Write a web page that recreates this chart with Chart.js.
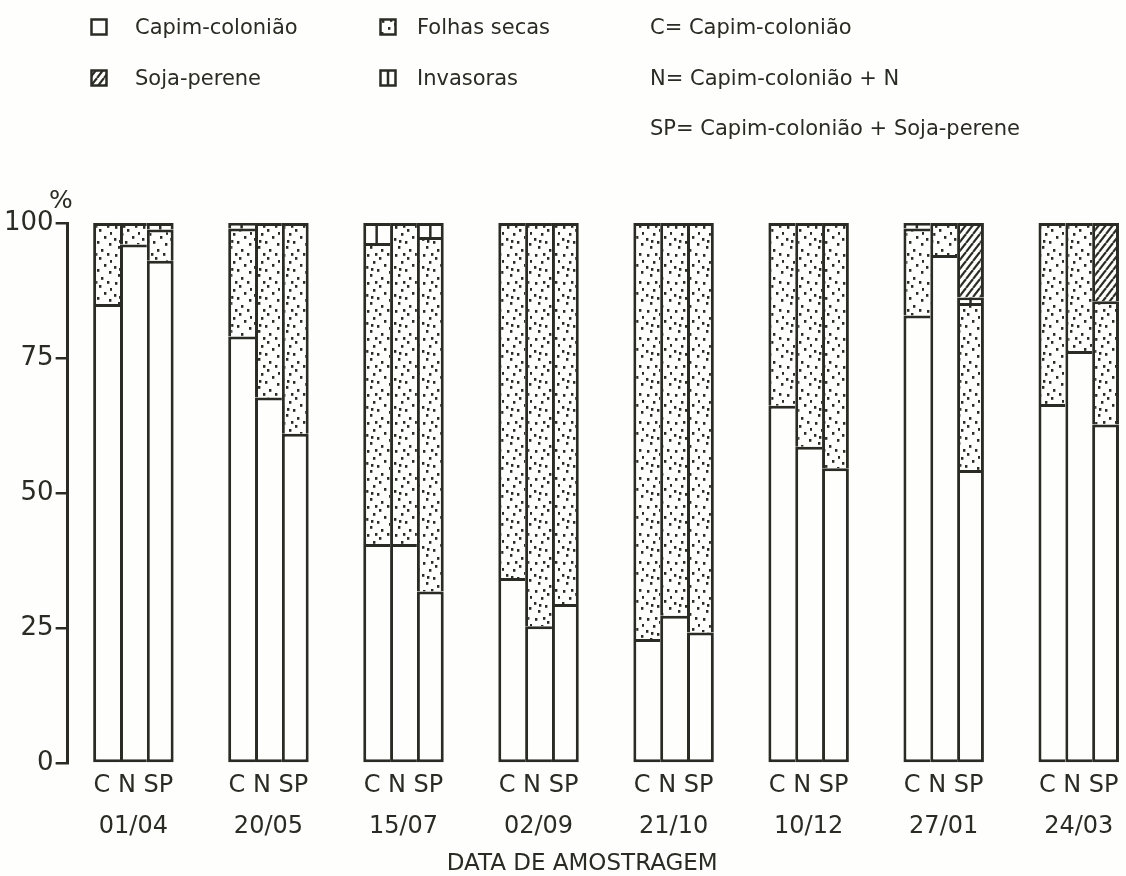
<!DOCTYPE html>
<html>
<head>
<meta charset="utf-8">
<script src="https://cdn.jsdelivr.net/npm/chart.js@4.4.1/dist/chart.umd.min.js"></script>
<style>
  html, body { margin: 0; padding: 0; background: #fefefc; }
  #wrap { position: relative; width: 1126px; height: 876px; overflow: hidden; font-family: 'DejaVu Sans', sans-serif; color: #2a2b24; }
  #chart { position: absolute; left: 0; top: 0; }
  .lg { position: absolute; font-size: 21px; line-height: 24px; white-space: nowrap; }
  .sw { position: absolute; width: 18px; height: 18px; }
</style>
</head>
<body>
<div id="wrap">
  <canvas id="chart" width="1126" height="876"></canvas>
  <canvas class="sw" id="sw0" width="18" height="18" style="left:90px; top:18px;"></canvas>
  <div class="lg" style="left:135px; top:15px;">Capim-colonião</div>
  <canvas class="sw" id="sw1" width="18" height="18" style="left:379px; top:18px;"></canvas>
  <div class="lg" style="left:417px; top:15px;">Folhas secas</div>
  <canvas class="sw" id="sw2" width="18" height="18" style="left:90px; top:69px;"></canvas>
  <div class="lg" style="left:135px; top:66px;">Soja-perene</div>
  <canvas class="sw" id="sw3" width="18" height="18" style="left:379px; top:69px;"></canvas>
  <div class="lg" style="left:417px; top:66px;">Invasoras</div>
  <div class="lg" style="left:650px; top:15px;">C= Capim-colonião</div>
  <div class="lg" style="left:650px; top:66px;">N= Capim-colonião + N</div>
  <div class="lg" style="left:650px; top:116px;">SP= Capim-colonião + Soja-perene</div>
  <div class="lg" style="left:49px; top:188px; font-size:25px;">%</div>
</div>
<script>
// ---- data ----
const dates = ['01/04', '20/05', '15/07', '02/09', '21/10', '10/12', '27/01', '24/03'];
const treatments = ['C', 'N', 'SP'];
const components = ['Capim-colonião', 'Folhas secas', 'Invasoras', 'Soja-perene'];
const yTicks = [0, 25, 50, 75, 100];

const capimC  = [85, 79, 40.6, 34.3, 23, 66.2, 82.9, 66.5];
const folhasC = [15, 20, 55.7, 65.7, 77, 33.8, 16.1, 33.5];
const invC    = [0, 1, 3.7, 0, 0, 0, 1, 0];
const sojaC   = [0, 0, 0, 0, 0, 0, 0, 0];

const capimN  = [96, 67.7, 40.6, 25.4, 27.3, 58.6, 94.1, 76.3];
const folhasN = [4, 32.3, 59.4, 74.6, 72.7, 41.4, 5.9, 23.7];
const invN    = [0, 0, 0, 0, 0, 0, 0, 0];
const sojaN   = [0, 0, 0, 0, 0, 0, 0, 0];

const capimSP  = [93, 61, 31.8, 29.5, 24.2, 54.6, 54.3, 62.7];
const folhasSP = [5.8, 39, 65.6, 70.5, 75.8, 45.4, 30.9, 22.8];
const invSP    = [1.2, 0, 2.6, 0, 0, 0, 1, 0];
const sojaSP   = [0, 0, 0, 0, 0, 0, 13.8, 14.5];

// ---- styles ----
const INK = '#2a2b24';
const PAPER = '#fefefc';

function makeTile(w, h, draw) {
  const c = document.createElement('canvas');
  c.width = w; c.height = h;
  const g = c.getContext('2d');
  g.fillStyle = PAPER; g.fillRect(0, 0, w, h);
  draw(g, w, h);
  return c;
}
const dotSpots = [[3,2],[15,5],[23,1],[9,9],[20,12],[2,14],[13,17],[25,19],[6,22],[17,25],[11,1],[26,8],[7,16]];
const dotTile = makeTile(28, 28, (g) => {
  g.fillStyle = INK;
  dotSpots.forEach(([x, y]) => { g.fillRect(x, y, 2.4, 2.8); });
});
const hatchTile = makeTile(7, 9, (g, w, h) => {
  g.strokeStyle = INK; g.lineWidth = 2.2;
  [[-w, 0], [0, 0], [w, 0]].forEach(([dx]) => {
    g.beginPath(); g.moveTo(dx, h); g.lineTo(dx + w, 0); g.stroke();
  });
});
const ctx0 = document.getElementById('chart').getContext('2d');
const fills = {
  'Capim-colonião': PAPER,
  'Folhas secas': ctx0.createPattern(dotTile, 'repeat'),
  'Invasoras': PAPER,
  'Soja-perene': ctx0.createPattern(hatchTile, 'repeat')
};

const series = {
  C:  [capimC, folhasC, invC, sojaC],
  N:  [capimN, folhasN, invN, sojaN],
  SP: [capimSP, folhasSP, invSP, sojaSP]
};

const BW = 3;
const datasets = [];
treatments.forEach((t) => {
  components.forEach((comp, k) => {
    const bw = { top: BW, left: BW, right: t === 'SP' ? BW : 0, bottom: k === 0 ? BW : 0 };
    datasets.push({
      label: comp,
      stack: t,
      comp: comp,
      data: series[t][k].map((v, i) => ({ x: i, y: v })),
      backgroundColor: fills[comp],
      borderColor: INK,
      borderWidth: bw,
      borderSkipped: false,
      categoryPercentage: 0.596,
      barPercentage: 1
    });
  });
});

// vertical divider drawn inside "Invasoras" segments
const invDivider = {
  id: 'invDivider',
  afterDatasetsDraw(chart) {
    const c = chart.ctx;
    c.save();
    c.strokeStyle = INK; c.lineWidth = 2.5;
    chart.data.datasets.forEach((ds, di) => {
      if (ds.comp !== 'Invasoras') return;
      chart.getDatasetMeta(di).data.forEach((el) => {
        const p = el.getProps(['x', 'y', 'base'], true);
        if (Math.abs(p.base - p.y) > 3) {
          c.beginPath(); c.moveTo(p.x, p.y); c.lineTo(p.x, p.base); c.stroke();
        }
      });
    });
    c.restore();
  }
};

Chart.defaults.font.family = "'DejaVu Sans', sans-serif";
Chart.defaults.color = INK;

new Chart(ctx0, {
  type: 'bar',
  data: { datasets },
  plugins: [invDivider],
  options: {
    responsive: false,
    animation: false,
    devicePixelRatio: 1,
    layout: { padding: { top: 223, left: 2, right: 0, bottom: 0 } },
    plugins: { legend: { display: false }, tooltip: { enabled: false } },
    scales: {
      x: {
        type: 'linear',
        min: -0.487,
        max: 7.35,
        offset: false,
        stacked: true,
        grid: { display: false, drawTicks: false },
        border: { display: false },
        afterBuildTicks: (axis) => { axis.ticks = dates.map((d, i) => ({ value: i })); },
        ticks: {
          autoSkip: false,
          maxRotation: 0,
          padding: 2,
          font: { size: 24, lineHeight: 1.7 },
          color: INK,
          callback: (v, i) => [treatments.join(' '), dates[i]]
        },
        title: {
          display: true,
          text: 'DATA DE AMOSTRAGEM\u00a0\u00a0\u00a0\u00a0',
          font: { size: 23, lineHeight: 1 },
          padding: { top: 4, bottom: 0 },
          color: INK
        }
      },
      y: {
        min: 0,
        max: 100,
        stacked: true,
        afterBuildTicks: (axis) => { axis.ticks = yTicks.map((v) => ({ value: v })); },
        grid: { display: true, drawOnChartArea: false, drawTicks: true, tickLength: 12, color: INK, lineWidth: 2.5 },
        border: { display: true, color: INK, width: 3 },
        ticks: { padding: 2, font: { size: 26 }, color: INK }
      }
    }
  }
});

// legend swatches
function swatch(id, fill, divider) {
  const c = document.getElementById(id).getContext('2d');
  c.fillStyle = typeof fill === 'string' ? fill : c.createPattern(fill, 'repeat');
  c.fillRect(1, 1, 16, 16);
  c.strokeStyle = INK; c.lineWidth = 2.5;
  c.strokeRect(1.5, 1.5, 15, 15);
  if (divider) { c.beginPath(); c.moveTo(9, 1); c.lineTo(9, 17); c.stroke(); }
}
swatch('sw0', PAPER, false);
swatch('sw1', dotTile, false);
swatch('sw2', hatchTile, false);
swatch('sw3', PAPER, true);
</script>
</body>
</html>
